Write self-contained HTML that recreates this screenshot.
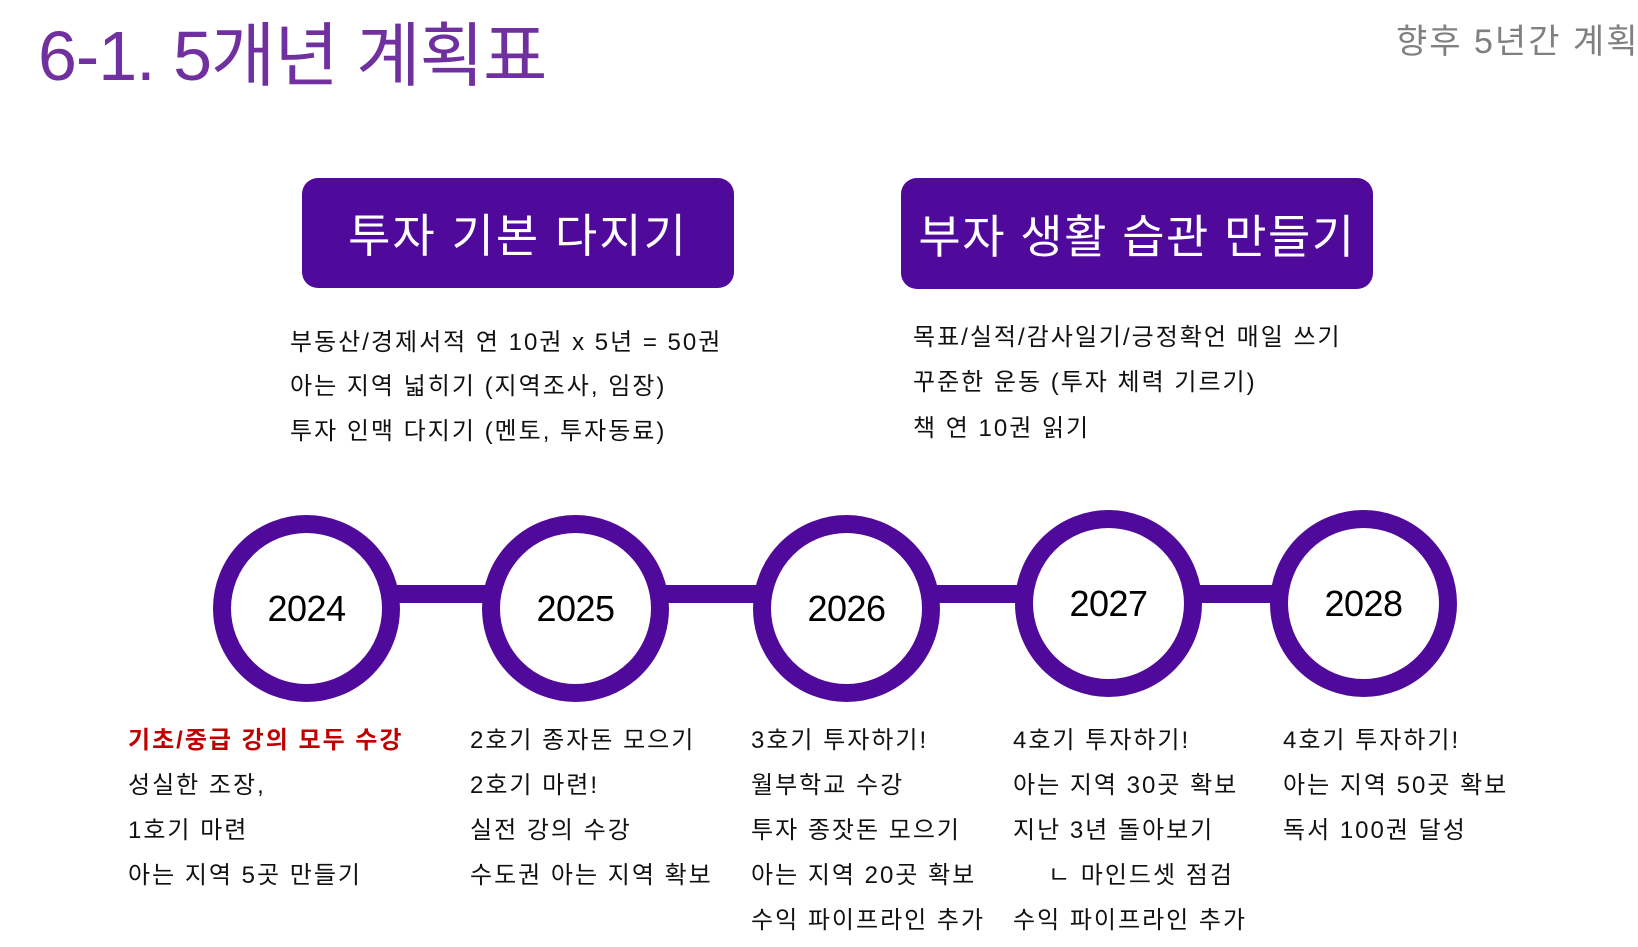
<!DOCTYPE html>
<html><head><meta charset="utf-8"><style>
body{margin:0;width:1638px;height:947px;background:#fff;overflow:hidden;position:relative;font-family:"Liberation Sans","Noto Sans CJK KR",sans-serif;}
.a{position:absolute;white-space:nowrap;}
.box{position:absolute;background:#500a9b;border-radius:16px;color:#fff;font-size:46px;letter-spacing:2px;display:flex;align-items:center;justify-content:center;}
.t{position:absolute;white-space:nowrap;font-size:24px;line-height:30px;color:#111;letter-spacing:2px;}
.circ{position:absolute;width:151px;height:151px;border:18px solid #500a9b;border-radius:50%;background:#fff;display:flex;align-items:center;justify-content:center;font-size:36px;color:#000;font-family:"Liberation Sans",sans-serif;letter-spacing:-0.5px;}
.bar{position:absolute;background:#500a9b;height:18px;top:585px;}
</style></head><body>
<div class="a" style="left:38px;top:14px;font-size:70px;line-height:84px;color:#7030a0;letter-spacing:-1px;">6-1. 5개년 계획표</div>
<div class="a" style="left:1396px;top:20px;font-size:34px;line-height:44px;color:#808080;letter-spacing:2px;">향후 5년간 계획</div>

<div class="box" style="left:302px;top:178px;width:432px;height:110px;">투자 기본 다지기</div>
<div class="box" style="left:901px;top:178px;width:472px;height:111px;letter-spacing:1.5px;">부자 생활 습관 만들기</div>

<div class="t" style="left:290px;top:328px;">부동산/경제서적 연 10권 x 5년 = 50권</div>
<div class="t" style="left:290px;top:372px;">아는 지역 넓히기 (지역조사, 임장)</div>
<div class="t" style="left:290px;top:417px;">투자 인맥 다지기 (멘토, 투자동료)</div>

<div class="t" style="left:913px;top:323px;">목표/실적/감사일기/긍정확언 매일 쓰기</div>
<div class="t" style="left:913px;top:368px;">꾸준한 운동 (투자 체력 기르기)</div>
<div class="t" style="left:913px;top:414px;">책 연 10권 읽기</div>

<div class="bar" style="left:390px;width:800px;"></div>
<div class="bar" style="left:1190px;width:90px;"></div>
<div class="circ" style="left:213px;top:515px;">2024</div>
<div class="circ" style="left:482px;top:515px;">2025</div>
<div class="circ" style="left:753px;top:515px;">2026</div>
<div class="circ" style="left:1015px;top:510px;">2027</div>
<div class="circ" style="left:1270px;top:510px;">2028</div>

<div class="t" style="left:128px;top:726px;color:#c00000;font-weight:bold;">기초/중급 강의 모두 수강</div>
<div class="t" style="left:128px;top:771px;">성실한 조장,</div>
<div class="t" style="left:128px;top:816px;">1호기 마련</div>
<div class="t" style="left:128px;top:861px;">아는 지역 5곳 만들기</div>

<div class="t" style="left:470px;top:726px;">2호기 종자돈 모으기</div>
<div class="t" style="left:470px;top:771px;">2호기 마련!</div>
<div class="t" style="left:470px;top:816px;">실전 강의 수강</div>
<div class="t" style="left:470px;top:861px;">수도권 아는 지역 확보</div>

<div class="t" style="left:751px;top:726px;">3호기 투자하기!</div>
<div class="t" style="left:751px;top:771px;">월부학교 수강</div>
<div class="t" style="left:751px;top:816px;">투자 종잣돈 모으기</div>
<div class="t" style="left:751px;top:861px;">아는 지역 20곳 확보</div>
<div class="t" style="left:751px;top:906px;">수익 파이프라인 추가</div>

<div class="t" style="left:1013px;top:726px;">4호기 투자하기!</div>
<div class="t" style="left:1013px;top:771px;">아는 지역 30곳 확보</div>
<div class="t" style="left:1013px;top:816px;">지난 3년 돌아보기</div>
<div class="t" style="left:1048px;top:861px;">ㄴ 마인드셋 점검</div>
<div class="t" style="left:1013px;top:906px;">수익 파이프라인 추가</div>

<div class="t" style="left:1283px;top:726px;">4호기 투자하기!</div>
<div class="t" style="left:1283px;top:771px;">아는 지역 50곳 확보</div>
<div class="t" style="left:1283px;top:816px;">독서 100권 달성</div>
</body></html>
